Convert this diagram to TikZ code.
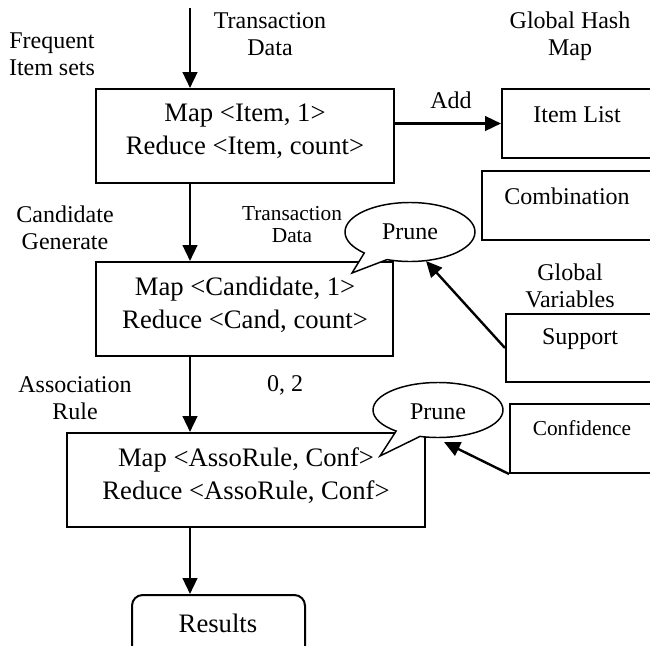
\documentclass[tikz,border=0pt]{standalone}
\usepackage{fontspec}
\setmainfont{Liberation Serif}
\usetikzlibrary{arrows.meta,shapes.callouts}
\newcommand\pxu{0.75pt}
\tikzset{
  box/.style={draw, line width=1.5pt, rectangle, inner sep=0pt},
  rbox/.style={draw, line width=1.5pt, rectangle, rounded corners=8pt, inner sep=0pt},
  lbl/.style={align=center, inner sep=0pt, font=\fontsize{18}{20.5}\selectfont},
  slbl/.style={align=center, inner sep=0pt, font=\fontsize{16}{16.5}\selectfont},
  btxt/.style={align=center, inner sep=0pt, font=\fontsize{20}{24.75}\selectfont},
  flow/.style={line width=1.8pt, -{Triangle[length=12pt,width=11pt]}},
  bubble/.style={ellipse callout, draw, fill=white, line width=1.1pt, inner sep=0pt,
     callout pointer arc=24, font=\fontsize{18}{20}\selectfont}
}
\begin{document}
\begin{tikzpicture}[x=0.75pt,y=-0.75pt]
\clip (0,0) rectangle (650,646);
\fill[white] (0,0) rectangle (650,646);
% main boxes
\node[box, minimum width=298*\pxu, minimum height=94*\pxu] (b1) at (245,136) {};
\node[box, minimum width=297*\pxu, minimum height=94*\pxu] (b2) at (244.5,309) {};
\node[box, minimum width=358*\pxu, minimum height=94*\pxu] (b3) at (246,480) {};
\node[btxt] (t1) at (245,131.5) {Map <Item, 1>\\Reduce <Item, count>};
\node[btxt] (t2) at (245,305) {Map <Candidate, 1>\\Reduce <Cand, count>};
\node[btxt] (t3) at (246,476) {Map <AssoRule, Conf>\\Reduce <AssoRule, Conf>};
% results
\node[rbox, minimum width=173*\pxu, minimum height=90*\pxu] (res) at (218.5,640) {};
\node[btxt] (rest) at (218,623) {Results};
% right boxes
\node[box, minimum width=198*\pxu, minimum height=69*\pxu] (il) at (601,123.5) {};
\node[lbl] (ilt) at (577,115) {Item List};
\node[box, minimum width=218*\pxu, minimum height=69*\pxu] (cb) at (591,205.5) {};
\node[lbl] (cbt) at (567,196) {Combination};
\node[box, minimum width=194*\pxu, minimum height=68*\pxu] (sup) at (603,348) {};
\node[lbl] (supt) at (580,339) {Support};
\node[box, minimum width=190*\pxu, minimum height=69*\pxu] (conf) at (605,438.5) {};
\node[slbl] (conft) at (582,428) {Confidence};
% labels
\node[lbl] (l1) at (52,54) {Frequent\\Item sets};
\node[lbl] (l2) at (270,34) {Transaction\\Data};
\node[lbl] (l3) at (570,36) {Global Hash\\Map};
\node[lbl] (l4) at (451,100) {Add};
\node[lbl] (l5) at (65,228) {Candidate\\Generate};
\node[slbl] (l6) at (292,225) {Transaction\\Data};
\node[lbl] (l7) at (570,286) {Global\\Variables};
\node[lbl] (l8) at (75,398) {Association\\Rule};
\node[lbl] (l9) at (285,385) {0, 2};
% flow arrows
\coordinate (top) at (190,8);
\draw[flow] (top) -- (top |- b1.north);
\draw[flow] (b1.south -| top) -- (b2.north -| top);
\draw[flow] (b2.south -| top) -- (b3.north -| top);
\draw[flow] (b3.south -| top) -- (res.north -| top);
\draw[flow] (b1.east |- il.west) -- (il.west);
% callouts
\node[bubble, minimum width=130*\pxu, minimum height=59*\pxu,
      callout absolute pointer={(352,273)}] (pr1) at (410,232) {};
\node[lbl] (pr1t) at (410,232) {Prune};
\node[bubble, minimum width=130*\pxu, minimum height=55*\pxu,
      callout absolute pointer={(380,456)}] (pr2) at (438,410) {};
\node[lbl] (pr2t) at (438,412) {Prune};
\coordinate (p1tip) at (426,261);
\coordinate (p2tip) at (444,442);
\draw[flow] (sup.west) -- (p1tip);
\draw[flow] (conf.south west) -- (p2tip);
\end{tikzpicture}
\end{document}
